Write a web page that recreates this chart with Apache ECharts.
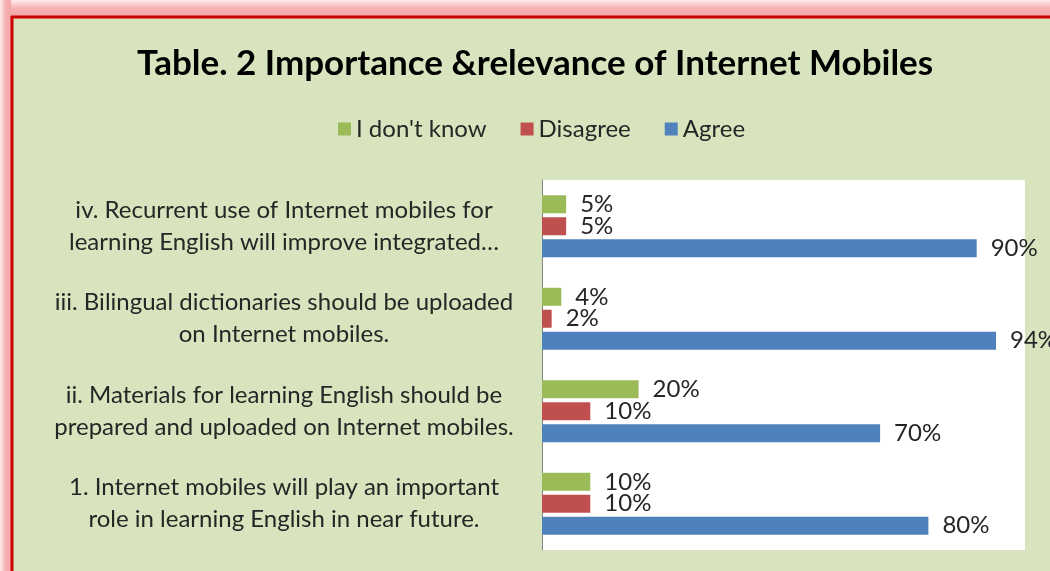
<!DOCTYPE html>
<html>
<head>
<meta charset="utf-8">
<script src="https://cdn.jsdelivr.net/npm/echarts@6/dist/echarts.min.js"></script>
<style>
html,body{margin:0;padding:0;background:#fff;}
#chart{width:1050px;height:571px;}
</style>
</head>
<body>
<div id="chart"></div>
<script>
const titleText = 'Table. 2 Importance &relevance of Internet Mobiles';
const categories = [
  '1. Internet mobiles will play an important\nrole in learning English in near future.',
  'ii. Materials for learning English should be\nprepared and uploaded on Internet mobiles.',
  'iii. Bilingual dictionaries should be uploaded\non Internet mobiles.',
  'iv. Recurrent use of Internet mobiles for\nlearning English will improve integrated…'
];
const seriesNames = ["I don't know", 'Disagree', 'Agree'];
const dontKnow = [10, 20, 4, 5];
const disagree = [10, 10, 2, 5];
const agree = [80, 70, 94, 90];
const colors = ['#9BBB59', '#C0504D', '#4F81BD'];

const FONT = 'Lato';
const chart = echarts.init(document.getElementById('chart'));
const labelCfg = {
  show: true, position: 'right', distance: 14,
  formatter: p => p.value + '%',
  fontFamily: FONT, fontSize: 24, color: '#262626'
};
const mk = (name, data, color) => ({
  name, type: 'bar', data, barWidth: 18, barGap: '22%',
  itemStyle: { color },
  label: labelCfg
});
chart.setOption({
  backgroundColor: '#D7E4BD',
  animation: false,
  title: {
    text: titleText, left: 132, top: 41,
    textStyle: { fontFamily: FONT, fontWeight: 'bold', fontSize: 35, color: '#000' }
  },
  legend: {
    data: seriesNames, top: 112, left: 333,
    itemWidth: 13, itemHeight: 13, itemGap: 34,
    icon: 'rect',
    textStyle: { fontFamily: FONT, fontSize: 24, color: '#262626' }
  },
  grid: { left: 542, right: 25, top: 180, bottom: 21, backgroundColor: '#fff', show: true, borderWidth: 0 },
  xAxis: {
    type: 'value', min: 0, max: 100,
    axisLine: { show: false }, axisTick: { show: false },
    axisLabel: { show: false }, splitLine: { show: false }
  },
  yAxis: {
    type: 'category', data: categories,
    axisLine: { show: true, lineStyle: { color: '#868686', width: 1 } },
    axisTick: { show: false },
    axisLabel: {
      align: 'center', margin: 258,
      fontFamily: FONT, fontSize: 24, lineHeight: 32, color: '#262626'
    }
  },
  series: [
    mk(seriesNames[0], dontKnow, colors[0]),
    mk(seriesNames[1], disagree, colors[1]),
    mk(seriesNames[2], agree, colors[2])
  ],
  graphic: [
    { type: 'rect', shape: { x: 0, y: 0, width: 1050, height: 16 }, silent: true,
      style: { fill: new echarts.graphic.LinearGradient(0, 0, 0, 1, [
        { offset: 0, color: '#FDECEC' }, { offset: 0.5, color: '#F6B3B3' }, { offset: 1, color: '#F4A6A6' }]) } },
    { type: 'rect', shape: { x: 0, y: 0, width: 11, height: 571 }, silent: true,
      style: { fill: new echarts.graphic.LinearGradient(0, 0, 1, 0, [
        { offset: 0, color: '#FDECEC' }, { offset: 0.5, color: '#F6B3B3' }, { offset: 1, color: '#F4A6A6' }]) } },
    { type: 'line', shape: { x1: 11, y1: 17, x2: 1050, y2: 17 }, silent: true,
      style: { stroke: '#CC0000', lineWidth: 3 } },
    { type: 'line', shape: { x1: 12, y1: 16, x2: 12, y2: 571 }, silent: true,
      style: { stroke: '#CC0000', lineWidth: 3 } }
  ]
});
</script>
</body>
</html>
